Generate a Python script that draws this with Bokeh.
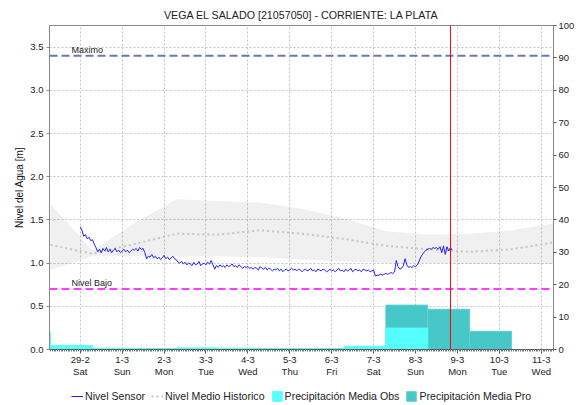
from bokeh.plotting import figure
from bokeh.layouts import column
from bokeh.models import (Range1d, LinearAxis, FixedTicker, Span, Label, Legend,
                          LegendItem, ColumnDataSource)
from bokeh.embed import file_html
from bokeh.resources import INLINE

FONT = "Liberation Sans"

# ---------------- data ----------------
title_text = "VEGA EL SALADO [21057050] - CORRIENTE: LA PLATA"
y_label = "Nivel del Agua [m]"

# hours since 29-2 00:00
day_ticks_h = [0, 24, 48, 72, 96, 120, 144, 168, 192, 216, 240, 264]
day_labels = ["29-2\nSat", "1-3\nSun", "2-3\nMon", "3-3\nTue", "4-3\nWed", "5-3\nThu",
              "6-3\nFri", "7-3\nSat", "8-3\nSun", "9-3\nMon", "10-3\nTue", "11-3\nWed"]
x_start_h = -17   # 28-2 07:00
x_end_h = 271     # 11-3 07:00

# sensor level, hourly from 29-2 00:00
sensor_start_h = 0
sensor_step_h = 1
sensor_level = [
    1.42, 1.38, 1.31, 1.33, 1.28, 1.30, 1.26, 1.27, 1.22, 1.18, 1.13,
    1.16, 1.12, 1.17, 1.14, 1.18, 1.13, 1.16, 1.12, 1.15, 1.17, 1.13, 1.15, 1.12, 1.14,
    1.16, 1.13, 1.15, 1.12, 1.14, 1.16, 1.15, 1.17, 1.14, 1.18, 1.16, 1.17, 1.12,
    1.05, 1.08, 1.07, 1.10, 1.06, 1.08, 1.05, 1.07, 1.04, 1.06, 1.09, 1.05, 1.07, 1.04,
    1.06, 1.08, 1.05, 1.04, 1.01,
    1.00, 1.02, 0.99, 1.01, 0.98, 1.00, 0.99, 0.97, 1.01, 0.98, 0.99, 1.02, 0.97, 0.99,
    1.00, 0.98, 1.01, 0.99, 1.03, 0.98,
    0.93, 0.97, 0.95, 0.98, 0.96, 0.97, 0.95, 0.98, 0.96, 0.97, 0.99, 0.96, 0.97, 0.95,
    0.98, 0.96, 0.94, 0.96, 0.95, 0.96, 0.94, 0.95,
    0.93, 0.95, 0.94, 0.92, 0.96, 0.94, 0.93, 0.95, 0.92, 0.94, 0.93, 0.91, 0.93, 0.92,
    0.94, 0.91, 0.93, 0.90, 0.92, 0.93, 0.91, 0.92,
    0.94, 0.92, 0.93, 0.91, 0.93, 0.92, 0.90, 0.92, 0.93, 0.91, 0.92, 0.94, 0.91, 0.92,
    0.90, 0.93, 0.92, 0.91, 0.93, 0.92, 0.90, 0.91, 0.93, 0.91, 0.92,
    0.90, 0.92, 0.94, 0.91, 0.92, 0.90, 0.93, 0.91, 0.92, 0.94, 0.90, 0.92, 0.93, 0.91,
    0.92, 0.90, 0.93, 0.92, 0.91, 0.92, 0.90, 0.91, 0.92,
    0.85, 0.86, 0.86, 0.87, 0.86, 0.87, 0.88, 0.87, 0.88, 0.89, 0.88, 0.90,
    1.03, 0.96, 0.93, 0.94, 0.97, 1.05, 0.98, 0.95, 0.96, 0.95, 0.97, 0.96, 0.98, 1.02,
    1.07, 1.10, 1.13, 1.15,
    1.16, 1.17, 1.16, 1.18, 1.17, 1.18, 1.16, 1.19, 1.12, 1.20, 1.10, 1.19, 1.14, 1.18, 1.15,
]

# historical statistics, daily at 07:00
hist_hours = [-17, 7, 31, 55, 79, 103, 127, 151, 175, 199, 223, 247, 271]
hist_upper = [1.68, 1.15, 1.46, 1.74, 1.72, 1.70, 1.63, 1.52, 1.37, 1.33, 1.34, 1.38, 1.46]
hist_lower = [0.92, 1.08, 1.08, 1.08, 1.08, 1.07, 1.04, 1.02, 1.00, 1.00, 0.99, 0.99, 0.99]
hist_mean = [1.21, 1.11, 1.22, 1.34, 1.33, 1.38, 1.34, 1.28, 1.20, 1.16, 1.13, 1.16, 1.24]

# precipitation (mm), daily 07:00 -> 07:00
obs_start_h = [-41, -17, 7, 31, 55, 79, 103, 127, 151, 175]
obs_mm = [5.2, 1.2, 0.4, 0.3, 0.5, 0.4, 0.3, 0.3, 1.0, 6.6]
pro_start_h = [175, 199, 223]
pro_mm = [13.7, 12.4, 5.6]
bar_span_h = 24

level_max = 3.4
level_low = 0.7
now_h = 212

level_ticks = [0.0, 0.5, 1.0, 1.5, 2.0, 2.5, 3.0, 3.5]
pp_ticks = [0, 10, 20, 30, 40, 50, 60, 70, 80, 90, 100]

legend_labels = ["Nivel Sensor", "Nivel Medio Historico",
                 "Precipitación Media Obs", "Precipitación Media Pro"]

# ---------------- styles ----------------
SENSOR = dict(line_color="#1f1fff", line_width=1)
MEAN = dict(line_color="#c4c4c4", line_width=2, line_dash="2 3")
OBS = dict(fill_color="#55ffff", line_color="#55ffff", line_width=1)
PRO = dict(fill_color="#47c7c7", line_color="#5fd0d0", line_width=1)

# ---------------- main figure ----------------
p = figure(width=578, height=385, output_backend="svg", toolbar_location=None,
           x_range=Range1d(x_start_h - 0.6, x_end_h), y_range=Range1d(0, 3.75),
           min_border_left=49, min_border_right=25, min_border_top=25, min_border_bottom=36)
p.extra_y_ranges = {"pp": Range1d(0, 100)}

p.title.text = title_text
p.title.align = "center"
p.title.text_font = FONT
p.title.text_font_size = "10.7px"
p.title.text_font_style = "normal"
p.title.text_color = "#222222"

p.outline_line_color = "#888888"
p.background_fill_color = "white"

for g in (p.xgrid, p.ygrid):
    g.grid_line_color = "#c4c4c4"
    g.grid_line_dash = "2 2"
    g.grid_line_width = 1
p.xgrid.ticker = FixedTicker(ticks=day_ticks_h)
p.ygrid.ticker = FixedTicker(ticks=level_ticks)

xa = p.xaxis[0]
xa.ticker = FixedTicker(ticks=day_ticks_h, minor_ticks=list(range(x_start_h, x_end_h + 1)))
xa.major_label_overrides = {h: l for h, l in zip(day_ticks_h, day_labels)}
xa.major_label_text_font = FONT
xa.major_label_text_font_size = "9.5px"
xa.major_label_text_color = "#222222"
xa.major_label_text_line_height = 1.15
xa.axis_line_color = "#555555"
xa.major_tick_line_color = "#555555"
xa.minor_tick_line_color = "#777777"
xa.major_tick_out = 4
xa.major_tick_in = 0
xa.minor_tick_out = 2
xa.minor_tick_in = 0
xa.major_label_standoff = 0

ya = p.yaxis[0]
ya.ticker = FixedTicker(ticks=level_ticks)
ya.major_label_overrides = {t: f"{t:.1f}" for t in level_ticks}
ya.axis_label = y_label
ya.axis_label_text_font = FONT
ya.axis_label_text_font_size = "10px"
ya.axis_label_text_font_style = "normal"
ya.axis_label_text_color = "#111111"
ya.axis_label_standoff = 2
ya.major_label_text_font = FONT
ya.major_label_text_font_size = "9.5px"
ya.major_label_text_color = "#222222"
ya.axis_line_color = "#888888"
ya.major_tick_line_color = "#888888"
ya.major_tick_out = 3
ya.major_tick_in = 0
ya.minor_tick_line_color = None
ya.major_label_standoff = 3

ra = LinearAxis(y_range_name="pp", ticker=FixedTicker(ticks=pp_ticks))
ra.major_label_text_font = FONT
ra.major_label_text_font_size = "9.5px"
ra.major_label_text_color = "#222222"
ra.axis_line_color = "#888888"
ra.major_tick_line_color = "#555555"
ra.major_tick_out = 3
ra.major_tick_in = 0
ra.minor_tick_line_color = None
ra.major_label_standoff = 2
p.add_layout(ra, "right")

hist_src = ColumnDataSource(dict(x=hist_hours, up=hist_upper, lo=hist_lower, mean=hist_mean))
p.varea(x="x", y1="lo", y2="up", source=hist_src, fill_color="#000000", fill_alpha=0.06)
p.line(x="x", y="mean", source=hist_src, **MEAN)

pro_src = ColumnDataSource(dict(l=pro_start_h, r=[s + bar_span_h for s in pro_start_h], t=pro_mm))
obs_src = ColumnDataSource(dict(l=obs_start_h, r=[s + bar_span_h for s in obs_start_h], t=obs_mm))
p.quad(left="l", right="r", bottom=0, top="t", source=pro_src, y_range_name="pp", **PRO)
p.quad(left="l", right="r", bottom=0, top="t", source=obs_src, y_range_name="pp", **OBS)

sensor_x = [sensor_start_h + i * sensor_step_h for i in range(len(sensor_level))]
p.line(x=sensor_x, y=sensor_level, **SENSOR)

p.add_layout(Span(location=level_max, dimension="width", line_color="#6b79aa",
                  line_width=2, line_dash="8 4"))
p.add_layout(Span(location=level_low, dimension="width", line_color="#ff3dff",
                  line_width=2, line_dash="8 4"))
p.add_layout(Span(location=now_h, dimension="height", line_color="#ff0000", line_width=1))
level_label_h = -5
p.add_layout(Label(x=level_label_h, y=level_max, y_offset=1, text="Maximo",
                   text_font=FONT, text_font_size="9px", text_color="#222222",
                   text_baseline="bottom"))
p.add_layout(Label(x=level_label_h, y=level_low, y_offset=1, text="Nivel Bajo",
                   text_font=FONT, text_font_size="9px", text_color="#222222",
                   text_baseline="bottom"))

# ---------------- legend strip ----------------
# proxy renderers: their single sample lies outside the strip's ranges
lg = figure(width=578, height=20, output_backend="svg", toolbar_location=None,
            x_range=Range1d(0, 1), y_range=Range1d(0, 1),
            min_border=0, min_border_left=0, min_border_right=0,
            min_border_top=0, min_border_bottom=0)
lg.axis.visible = False
lg.grid.visible = False
lg.outline_line_color = None
r_sensor = lg.line(x=[5, 6], y=[5, 6], **SENSOR)
r_mean = lg.line(x=[5, 6], y=[5, 6], **MEAN)
r_obs = lg.quad(left=[5], right=[6], bottom=[5], top=[6], **OBS)
r_pro = lg.quad(left=[5], right=[6], bottom=[5], top=[6], **PRO)

legend = Legend(items=[LegendItem(label=t, renderers=[r]) for t, r in
                       zip(legend_labels, [r_sensor, r_mean, r_obs, r_pro])],
                orientation="horizontal", location=(22, 3))
legend.label_text_font = FONT
legend.label_text_font_size = "10.6px"
legend.label_text_color = "#222222"
legend.glyph_width = 12
legend.glyph_height = 12
legend.label_standoff = 2
legend.spacing = 6
legend.padding = 0
legend.margin = 0
legend.border_line_alpha = 0
legend.background_fill_alpha = 0
lg.add_layout(legend, "center")

open("out.html", "w").write(file_html(column(p, lg), INLINE))
